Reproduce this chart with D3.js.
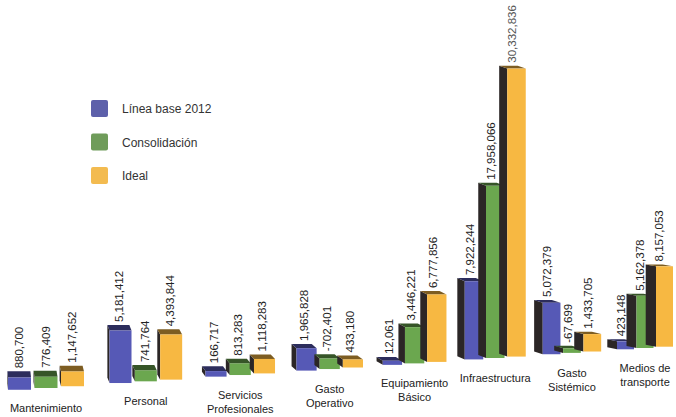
<!DOCTYPE html>
<html>
<head>
<meta charset="utf-8">
<script src="https://cdn.jsdelivr.net/npm/d3@7"></script>
<style>
  body { margin: 0; background: #fff; }
  svg { display: block; font-family: "Liberation Sans", Arial, sans-serif; }
</style>
</head>
<body>
<script>
var categories = [
    ["Mantenimiento"], ["Personal"], ["Servicios", "Profesionales"], ["Gasto", "Operativo"],
    ["Equipamiento", "Básico"], ["Infraestructura"], ["Gasto", "Sistémico"], ["Medios de", "transporte"]
];
var seriesNames = ["Línea base 2012", "Consolidación", "Ideal"];
var lineaBase = [880700, 5181412, 166717, 1965828, 12061, 7922244, 5072379, 423148];
var consolidacion = [776409, 741764, 813283, -702401, 3446221, 17958066, -67699, 5162378];
var ideal = [1147652, 4393844, 1118283, 433180, 6777856, 30332836, 1433705, 8157053];
var colors = ["#5659b6", "#6ba74f", "#f7b842"];
var legendColors = ["#5d60aa", "#6f9c5a", "#f3bb50"];

var w = 676, h = 417;
var svg = d3.select("body").append("svg").attr("width", w).attr("height", h);
var fmt = d3.formatLocale({decimal: ".", thousands: ",", grouping: [3], currency: ["", ""], minus: "-"}).format(",");

// perspective along the row of groups
var k = 0.2;
var u = d3.scaleLinear().domain([0, categories.length - 1]).range([0, 1]);
var px = d3.scaleLinear().domain([0, 1]).range([46, 645]);
var groupX = function (i) {
    var t = u(i);
    return px(t * (1 + k) / (1 + k * t));
};
var floorY = d3.scaleLinear().domain([46, 645]).range([388, 348]);
var pitch = d3.scaleLinear().domain([46, 645]).range([26.5, 19.5]);
var barW = d3.scaleLinear().domain([46, 645]).range([23, 17]);
var sideX = d3.scaleLinear().domain([46, 645]).range([-1, -10]);
var topY = d3.scaleLinear().domain([46, 645]).range([-6, -2]);
var hScale = d3.scaleLinear().domain([0, d3.max(ideal)]).range([4, 288]);

var data = [];
categories.forEach(function (c, i) {
    [lineaBase, consolidacion, ideal].forEach(function (s, j) {
        var cx = groupX(i);
        var fx = cx + (j - 1) * pitch(cx);
        var bw = barW(cx);
        var x = fx - bw / 2;
        var base = floorY(fx);
        var top = base - hScale(Math.abs(s[i]));
        data.push({v: s[i], j: j, x: x, w: bw, base: base, top: top, dx: sideX(fx), dy: topY(fx)});
    });
});

var bars = svg.append("g").selectAll("g").data(data).enter().append("g");

bars.append("path")
    .attr("fill", "#2b2626")
    .attr("d", function (d) {
        return "M" + d.x + "," + d.top + "L" + (d.x + d.dx) + "," + (d.top + d.dy) +
            "L" + (d.x + d.dx) + "," + (d.base + d.dy) + "L" + d.x + "," + d.base + "Z";
    });
bars.append("path")
    .attr("fill", function (d) { return d3.color(colors[d.j]).darker(1.9); })
    .attr("d", function (d) {
        return "M" + d.x + "," + d.top + "L" + (d.x + d.w) + "," + d.top +
            "L" + (d.x + d.w + d.dx) + "," + (d.top + d.dy) + "L" + (d.x + d.dx) + "," + (d.top + d.dy) + "Z";
    });
bars.append("rect")
    .attr("x", function (d) { return d.x; })
    .attr("y", function (d) { return d.top; })
    .attr("width", function (d) { return d.w; })
    .attr("height", function (d) { return d.base - d.top; })
    .attr("fill", function (d) { return colors[d.j]; });

bars.append("text")
    .attr("transform", function (d) {
        return "translate(" + (d.x + d.w / 2 + d.dx / 2) + "," + (d.top + d.dy - 3) + ") rotate(-90)";
    })
    .attr("dy", "0.35em")
    .attr("font-size", 11.5)
    .attr("fill", function (d) { return d.v === d3.max(ideal) ? "#555" : "#222"; })
    .text(function (d) { return fmt(d.v); });

// category labels
var cat = svg.append("g").selectAll("text").data(categories).enter().append("text")
    .attr("text-anchor", "middle")
    .attr("font-size", 11)
    .attr("fill", "#222")
    .attr("x", function (d, i) { return groupX(i); })
    .attr("y", function (d, i) { return floorY(groupX(i)) + 24; });
cat.selectAll("tspan").data(function (d) { return d; }).enter().append("tspan")
    .attr("x", function () { return d3.select(this.parentNode).attr("x"); })
    .attr("dy", function (d, i) { return i ? 14 : 0; })
    .text(function (d) { return d; });

// legend
var legend = svg.append("g").selectAll("g").data(seriesNames).enter().append("g")
    .attr("transform", function (d, i) { return "translate(91," + (100 + i * 33.5) + ")"; });
legend.append("rect")
    .attr("width", 17).attr("height", 17).attr("rx", 2)
    .attr("fill", function (d, i) { return legendColors[i]; });
legend.append("text")
    .attr("x", 31).attr("y", 9).attr("dy", "0.35em")
    .attr("font-size", 12)
    .attr("fill", "#333")
    .text(function (d) { return d; });
</script>
</body>
</html>
